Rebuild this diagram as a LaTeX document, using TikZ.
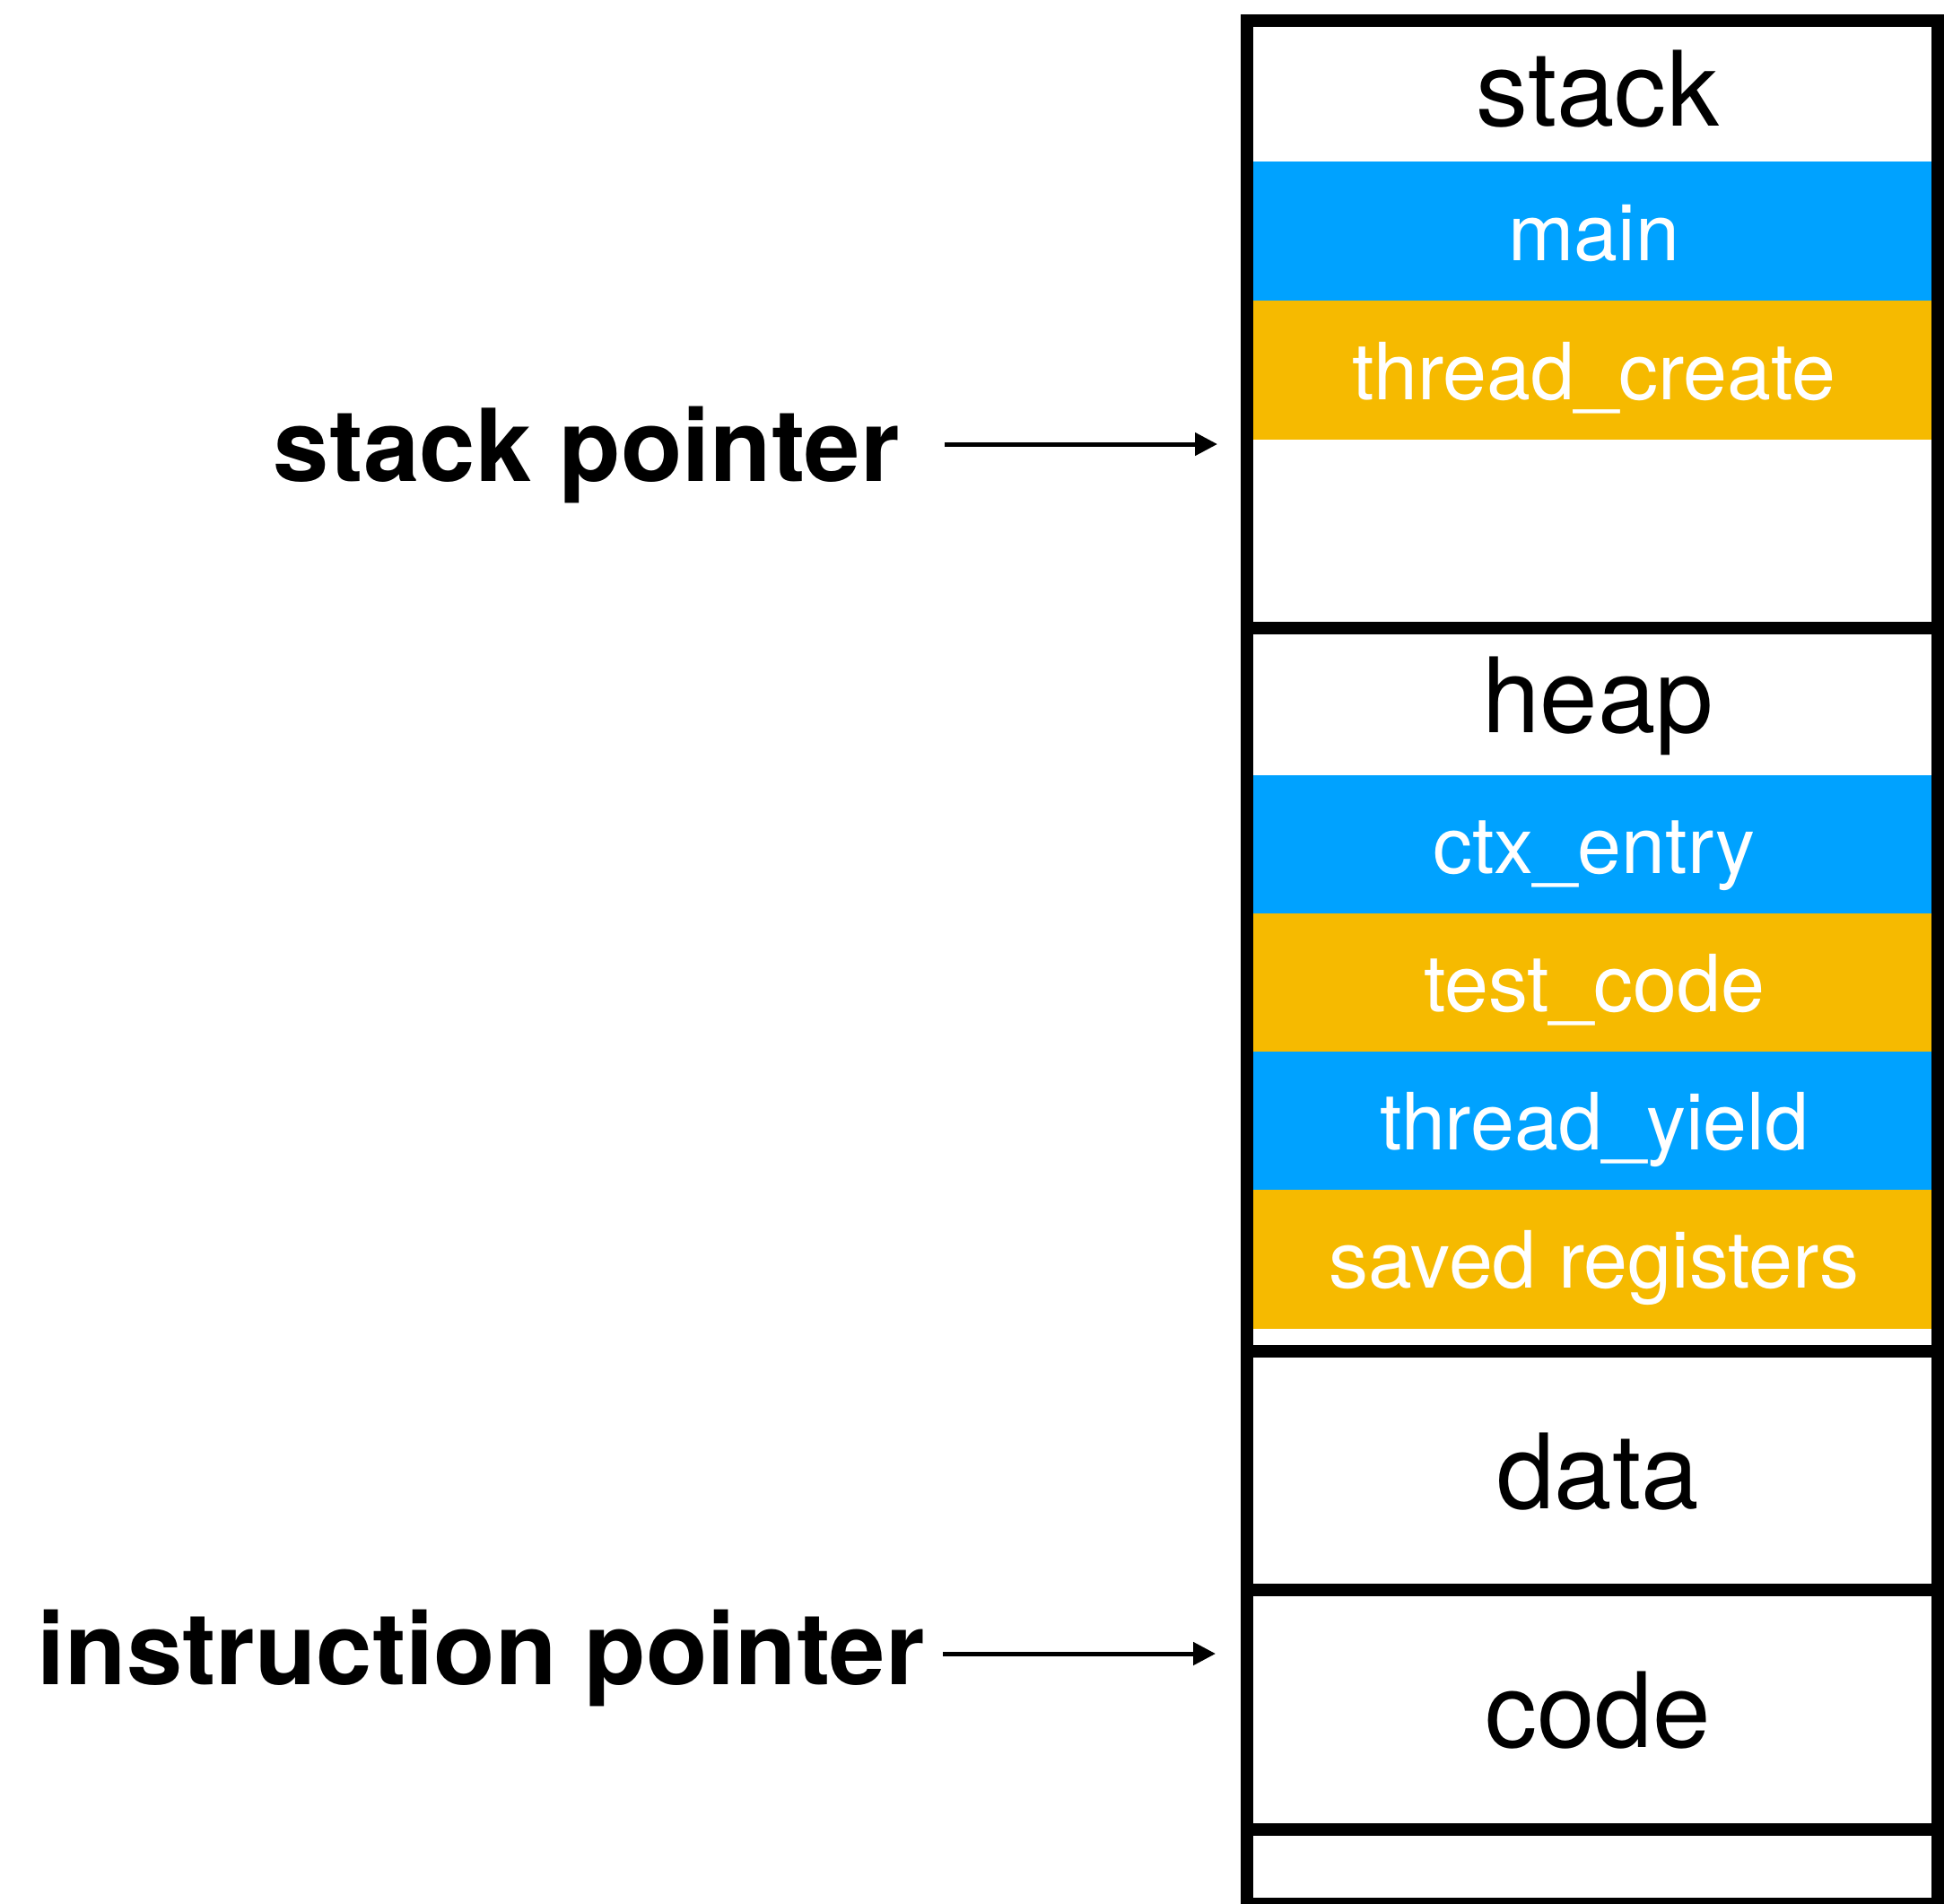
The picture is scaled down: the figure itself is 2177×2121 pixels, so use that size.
\documentclass[tikz,border=0pt]{standalone}
\usepackage{fontspec}
\setmainfont{TeX Gyre Heros}
\usetikzlibrary{arrows.meta}
\definecolor{callblue}{RGB}{0,162,255}
\definecolor{callyellow}{RGB}{246,186,0}

\begin{document}
\begin{tikzpicture}[x=0.5pt,y=-0.5pt,
  memregion/.style={draw=black, line width=7pt, minimum width=384.75pt,
    inner sep=0pt, outer sep=0pt},
  callframe/.style={minimum width=380pt, minimum height=77.5pt, inner sep=0pt,
    outer sep=0pt, text=white, text height=36pt, text depth=3.5pt,
    font=\fontsize{44pt}{48pt}\selectfont},
  blueframe/.style={callframe, fill=callblue},
  yellowframe/.style={callframe, fill=callyellow},
  regionlabel/.style={anchor=base, inner sep=0pt,
    font=\fontsize{58pt}{62pt}\selectfont},
  ptrlabel/.style={anchor=base east, inner sep=0pt,
    font=\fontsize{56pt}{60pt}\selectfont\bfseries},
  ptrarrow/.style={line width=2.5pt, -{Triangle[length=12.5pt,width=12.5pt]}}
]
\useasboundingbox (0,0) rectangle (2177,2121);

% call frames on the stack
\node[blueframe]   (main)   at (1777,257.5) {main};
\node[yellowframe] (create) at (1777,412.5) {thread\_create};

% frames kept on the heap
\node[blueframe]   (ctx)   at (1777,941)  {ctx\_entry};
\node[yellowframe] (test)  at (1777,1095) {test\_code};
\node[blueframe]   (yield) at (1777,1249) {thread\_yield};
\node[yellowframe] (saved) at (1777,1403) {saved registers};

% memory regions
\node[memregion, minimum height=338.5pt]  (stackbox) at (1774.75,361.5)  {};
\node[memregion, minimum height=402.75pt] (heapbox)  at (1774.75,1102.75) {};
\node[memregion, minimum height=133.25pt] (databox)  at (1774.75,1638.75) {};
\node[memregion, minimum height=133.25pt] (codebox)  at (1774.75,1905.25) {};
\node[memregion, minimum height=41.75pt]  (restbox)  at (1774.75,2080.25) {};

% region names
\node[regionlabel] (stacklbl) at (1781,140)   {stack};
\node[regionlabel] (heaplbl)  at (1781,816.6) {heap};
\node[regionlabel] (datalbl)  at (1781,1681)  {data};
\node[regionlabel] (codelbl)  at (1781,1947)  {code};

% registers pointing into memory
\node[ptrlabel] (splbl) at (1003,536.7) {stack pointer};
\node[ptrlabel] (iplbl) at (1031,1877)  {instruction pointer};

\coordinate (sptail) at (1053,495);
\coordinate (sphead) at (1357,495);
\coordinate (iptail) at (1051,1843);
\coordinate (iphead) at (1355,1843);

\draw[ptrarrow] (sptail) -- (sphead);
\draw[ptrarrow] (iptail) -- (iphead);
\end{tikzpicture}
\end{document}
